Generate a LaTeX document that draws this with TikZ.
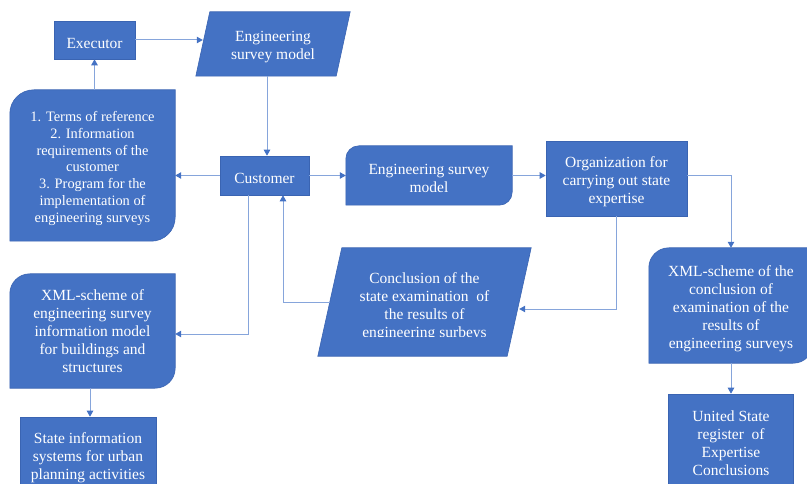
\documentclass[tikz,border=0pt]{standalone}
\usepackage{fontspec}
\setmainfont{Liberation Serif}
\usetikzlibrary{arrows.meta,backgrounds}
\definecolor{boxblue}{HTML}{4472C4}
\definecolor{boxedge}{HTML}{3A64B2}
\definecolor{linkblue}{HTML}{86A5DB}
\definecolor{tipblue}{HTML}{4472C4}
\tikzset{
  txt/.style={inner sep=0pt, text=white, align=center, font=\fontsize{15.5}{18}\selectfont},
  rectbox/.style={txt, draw=boxedge, line width=0.6pt, fill=boxblue},
  shapebox/.style={fill=boxblue, draw=boxedge, line width=0.6pt},
  link/.style={draw=linkblue, line width=1pt, -{Triangle[length=6pt,width=6.5pt,color=tipblue]}},
}
\newcommand\lw[1]{\rule{0pt}{#1}}
\newcommand\diagshape[2]{%
  \path[shapebox] ([xshift=#2]#1.north west) -- (#1.north east)
    -- ([yshift=#2]#1.south east) arc[start angle=0,end angle=-90,radius=#2]
    -- (#1.south west) -- ([yshift=-#2]#1.north west)
    arc[start angle=180,end angle=90,radius=#2] -- cycle;}
\newcommand\slantshape[2]{%
  \path[shapebox] ([xshift=#2]#1.north west) -- ([xshift=#2]#1.north east)
    -- ([xshift=-#2]#1.south east) -- ([xshift=-#2]#1.south west) -- cycle;}
\begin{document}
\begin{tikzpicture}[x=1pt,y=-1pt]
\useasboundingbox (0,0) rectangle (807,484);
\clip (0,0) rectangle (807,484);
\node[rectbox, minimum width=81pt, minimum height=38pt] (ex) at (94.5,40) {\lw{16.6pt}Executor};
\node[txt, minimum width=140pt, minimum height=64pt] (esm1) at (273,44) {\lw{16.6pt}Engineering\\survey model};
\node[rectbox, minimum width=89pt, minimum height=39pt] (cust) at (264.5,175.5) {\lw{16.6pt}Customer};
\node[txt, minimum width=165pt, minimum height=151pt, font=\fontsize{14.4}{16.7}\selectfont] (req) at (92.5,165.5)
  {\lw{16pt}1. Terms of reference\\2. Information\\requirements of the\\customer\\3. Program for the\\implementation of\\engineering surveys};
\node[txt, minimum width=166pt, minimum height=59pt] (mesm) at (429,175.5) {\lw{15.8pt}Engineering survey\\model};
\node[rectbox, minimum width=141pt, minimum height=75pt] (org) at (616.5,178.5) {\lw{17.6pt}Organization for\\carrying out state\\expertise};
\node[txt, minimum width=165pt, minimum height=114pt] (xml1) at (92.5,331)
  {XML-scheme of\\engineering survey\\information model\\for buildings and\\structures};
\node[rectbox, minimum width=136pt, minimum height=74pt] (sis) at (88,454)
  {\lw{17.6pt}State information\\systems for urban\\planning activities};
\node[txt, minimum width=164pt, minimum height=115pt] (xml2) at (731,305.5)
  {\lw{16.6pt}XML-scheme of the\\conclusion of\\examination of the\\results of\\engineering surveys};
\node[rectbox, minimum width=125pt, minimum height=96pt] (reg) at (731,442)
  {\lw{12.6pt}United State\\register\ \ of\\Expertise\\Conclusions};
\begin{scope}
  \clip (0,0) rectangle (807,336);
  \node[txt, minimum width=189pt, minimum height=108pt] (conc) at (424.5,302)
    {\lw{19.6pt}Conclusion of the\\state examination\ \ of\\the results of\\engineering surbeys};
\end{scope}
\begin{pgfonlayer}{background}
  \slantshape{esm1}{7pt}
  \slantshape{conc}{12pt}
  \diagshape{req}{24pt}
  \diagshape{xml1}{20pt}
  \diagshape{mesm}{13pt}
  \diagshape{xml2}{20pt}
\end{pgfonlayer}
\coordinate (k1) at ([xshift=2.5pt]cust.north);
\coordinate (k2) at ([xshift=18.5pt]cust.south);
\coordinate (k3) at ([xshift=-16.5pt]cust.south);
\coordinate (k4) at ([xshift=-2.5pt]xml1.south);
\draw[link] (ex.east) -- (ex.east -| esm1.west);
\draw[link] (req.north -| ex.south) -- (ex.south);
\draw[link] (esm1.south -| k1) -- (k1);
\draw[link] (cust.west) -- (req.east |- cust.west);
\draw[link] (cust.east) -- (mesm.west |- cust.east);
\draw[link] (mesm.east) -- (org.west |- mesm.east);
\draw[link] (org.east |- mesm.east) -| (xml2.north);
\draw[link] (org.south) |- ([yshift=-7pt]conc.east);
\draw[link] (conc.west) -| (k2);
\draw[link] (k3) |- ([yshift=-3pt]xml1.east);
\draw[link] (k4) -- (k4 |- sis.north);
\draw[link] (xml2.south) -- (xml2.south |- reg.north);
\end{tikzpicture}
\end{document}
